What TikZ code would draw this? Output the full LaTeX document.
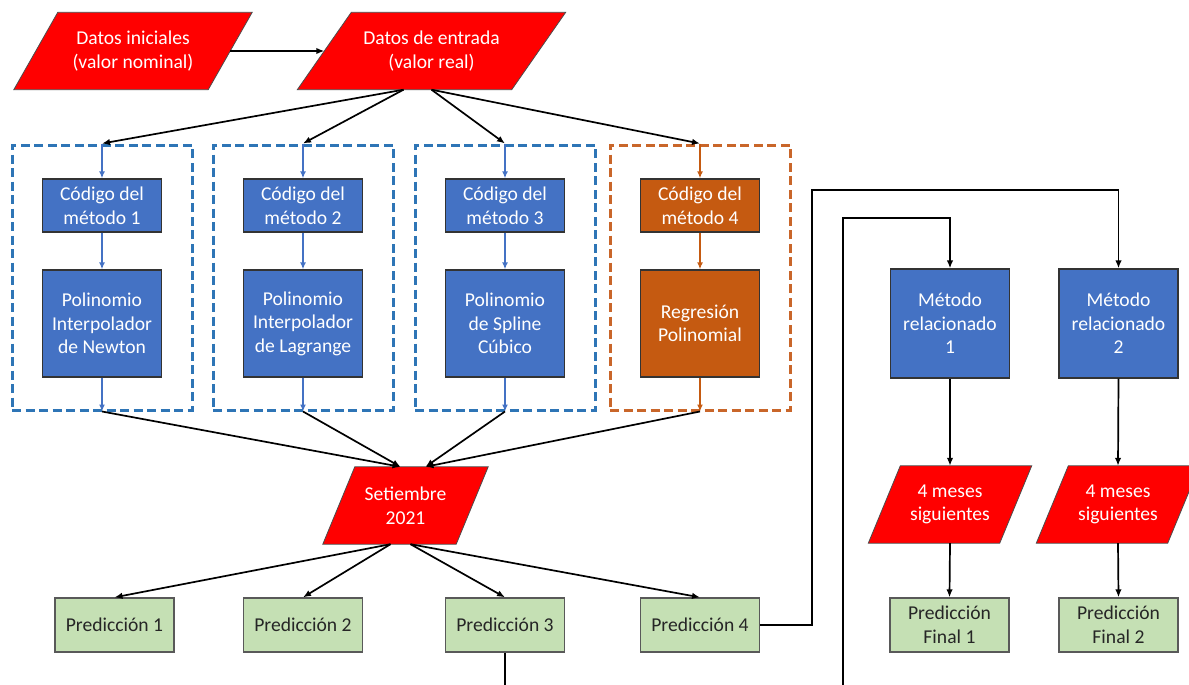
\documentclass[tikz,border=0pt]{standalone}
\usepackage{fontspec}
\setmainfont{Carlito}
\usetikzlibrary{arrows.meta}
\usetikzlibrary{calc}
\usetikzlibrary{backgrounds}

\definecolor{parared}{HTML}{FF0000}
\definecolor{metblue}{HTML}{4472C4}
\definecolor{metorange}{HTML}{C55A11}
\definecolor{predgreen}{HTML}{C5E0B4}
\definecolor{dashblue}{HTML}{2E75B6}
\definecolor{dashorange}{HTML}{C9662A}

\tikzset{
  box/.style={draw=black!80, line width=1.3pt, align=center, text=white, inner sep=0pt},
  codebox/.style={box, fill=metblue, minimum width=119pt, minimum height=53pt},
  polybox/.style={box, fill=metblue, minimum width=119pt, minimum height=107pt},
  predbox/.style={box, fill=predgreen, draw=black!65, text=black!85, minimum width=119pt, minimum height=54pt},
  paranode/.style={align=center, text=white, inner sep=0pt, minimum height=77pt},
  group/.style={line width=3pt, dash pattern=on 9pt off 4.5pt, minimum width=180pt, minimum height=265pt, inner sep=0pt},
  flow/.style={line width=1.7pt, -{Latex[length=8pt,width=6.5pt]}},
  inflow/.style={line width=1.8pt, -{Latex[length=7pt,width=6pt]}},
}

\begin{document}
\begin{tikzpicture}[x=1pt, y=-1pt, font=\fontsize{19.6}{23.6}\selectfont]

\useasboundingbox (0,0) rectangle (1189,685);
\clip (0,0) rectangle (1189,685);

% input data
\node[paranode, minimum width=194pt] (dini) at (133,51) {Datos iniciales\\(valor nominal)};
\node[paranode, minimum width=214pt] (dent) at (431.5,51) {Datos de entrada\\(valor real)};

% method columns
\foreach \i/\cx/\fillc/\dashc/\poly in {1/102/metblue/dashblue/{Polinomio\\Interpolador\\de Newton},
    2/303/metblue/dashblue/{Polinomio\\Interpolador\\de Lagrange},
    3/505/metblue/dashblue/{Polinomio\\de Spline\\Cúbico},
    4/700/metorange/dashorange/{Regresión\\Polinomial}} {
  \node[group, draw=\dashc] (g\i) at (\cx,277.5) {};
  \node[codebox, fill=\fillc] (c\i) at (\cx,205.5) {Código del\\método \i};
  \node[polybox, fill=\fillc] (p\i) at (\cx,323.5) {\poly};
  \draw[inflow, draw=\fillc] (g\i.north) -- (c\i.north);
  \draw[inflow, draw=\fillc] (c\i.south) -- (p\i.north);
  \draw[inflow, draw=\fillc] (p\i.south) -- (g\i.south);
}

\node[paranode, minimum width=133pt] (sept) at (405.5,505.5) {Setiembre\\2021};

% predictions
\foreach \i/\cx in {1/114.5, 2/303, 3/505, 4/700}
  \node[predbox] (r\i) at (\cx,625) {Predicción \i};

% related methods
\node[polybox, minimum height=109pt] (m1) at (950,323.5) {Método\\relacionado\\1};
\node[polybox, minimum height=109pt] (m2) at (1118.5,323.5) {Método\\relacionado\\2};
\node[paranode, minimum width=131pt] (mes1) at (950,504.5) {4 meses\\siguientes};
\node[paranode, minimum width=131pt] (mes2) at (1118,504.5) {4 meses\\siguientes};
\node[predbox] (f1) at (949.5,625) {Predicción\\Final 1};
\node[predbox] (f2) at (1118.5,625) {Predicción\\Final 2};

% parallelograms behind the texts
\begin{scope}[on background layer]
\foreach \n/\s in {dini/44, dent/54, sept/32, mes1/32, mes2/32}
  \filldraw[fill=parared, draw=black!70, line width=0.8pt]
    ($(\n.south west)+(-\s/2,0)$) -- ($(\n.south east)+(-\s/2,0)$) --
    ($(\n.north east)+(\s/2,0)$) -- ($(\n.north west)+(\s/2,0)$) -- cycle;
\end{scope}

% connectors
\draw[flow] (dini.east) -- (dent.west);
\foreach \i in {1,2} \draw[flow] ([xshift=-28pt]dent.south) -- (g\i.north);
\foreach \i in {3,4} \draw[flow] (dent.south) -- (g\i.north);
\foreach \i in {1,2} \draw[flow] (g\i.south) -- ([xshift=-5pt]sept.north);
\foreach \i in {3,4} \draw[flow] (g\i.south) -- ([xshift=20pt]sept.north);
\foreach \i in {1,2} \draw[flow] ([xshift=-15pt]sept.south) -- (r\i.north);
\foreach \i in {3,4} \draw[flow] ([xshift=5pt]sept.south) -- (r\i.north);

\draw[flow] (r4.east) -| (812,190) -| (m2.north);
\draw[flow] (r3.south) |- (843,700) -- (843,218) -| (m1.north);

\foreach \i in {1,2} {
  \draw[flow] (m\i.south) -- (mes\i.north);
  \draw[flow] (mes\i.south) -- (f\i.north);
}

\end{tikzpicture}
\end{document}
